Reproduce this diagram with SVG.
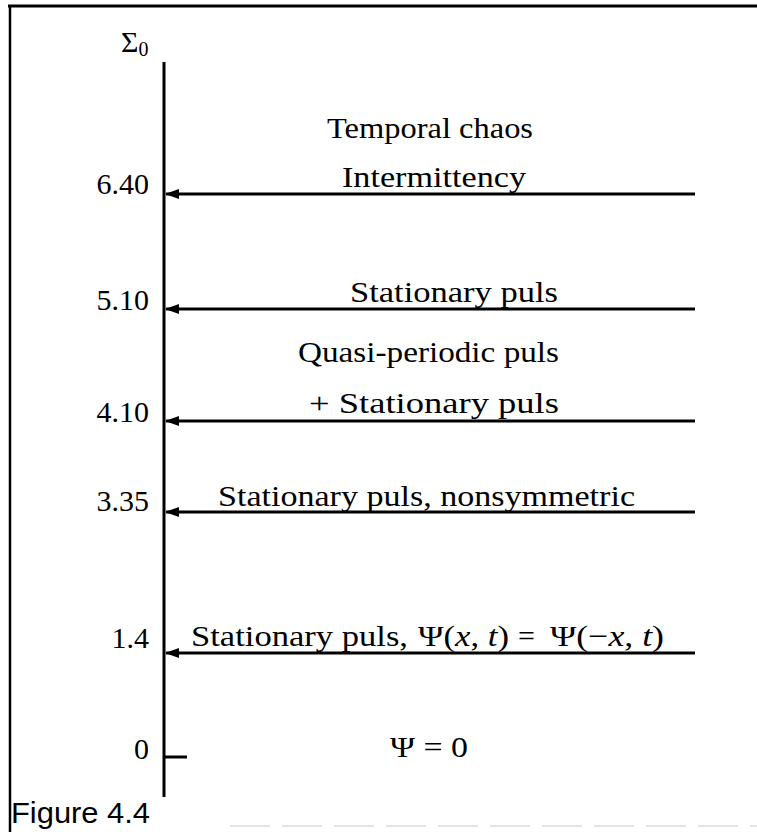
<svg xmlns="http://www.w3.org/2000/svg" width="757" height="832" viewBox="0 0 757 832">
<defs>
<style>
.t{font-family:"Liberation Serif","DejaVu Serif",serif;font-size:30px;fill:#000}
.n{font-family:"Liberation Serif","DejaVu Serif",serif;font-size:30px;fill:#000;text-anchor:end}
.ax{stroke:#000;stroke-width:3;fill:none}
.ar{stroke:#000;stroke-width:3;fill:none;marker-end:url(#ah)}
.cap{font-family:"Liberation Sans Narrow","Liberation Sans",sans-serif;font-size:30px;fill:#000}
</style>
<marker id="ah" markerWidth="14" markerHeight="10" refX="13" refY="5" orient="auto" markerUnits="userSpaceOnUse">
<path d="M0,0 L14,5 L0,10 Z" fill="#000"/>
</marker>
</defs>
<rect width="757" height="832" fill="#fff"/>
<g id="frame">
<line x1="8" y1="6" x2="757" y2="6" stroke="#000" stroke-width="3"/>
<line x1="10" y1="5" x2="10" y2="832" stroke="#000" stroke-width="2.5"/>
<line x1="230" y1="826" x2="757" y2="826" stroke="#ddd" stroke-width="1.5" stroke-dasharray="40,12"/>
</g>
<g id="axis">
<line class="ax" x1="164" y1="62" x2="164" y2="797"/>
<line class="ax" x1="164" y1="757" x2="187" y2="757"/>
<text class="t" x="121" y="52" font-size="28">Σ<tspan font-size="20" dy="4">0</tspan></text>
</g>
<g id="connectors">
<line class="ar" x1="695" y1="194" x2="166" y2="194"/>
<line class="ar" x1="695" y1="309" x2="166" y2="309"/>
<line class="ar" x1="695" y1="421" x2="166" y2="421"/>
<line class="ar" x1="695" y1="512" x2="166" y2="512"/>
<line class="ar" x1="695" y1="653" x2="166" y2="653"/>
</g>
<g id="ticks">
<text class="n" x="149" y="194">6.40</text>
<text class="n" x="149" y="310">5.10</text>
<text class="n" x="149" y="422">4.10</text>
<text class="n" x="149" y="511">3.35</text>
<text class="n" x="149" y="648">1.4</text>
<text class="n" x="149" y="759">0</text>
</g>
<g id="region-chaos"><text class="t" x="327" y="138" textLength="206" lengthAdjust="spacingAndGlyphs">Temporal chaos</text></g>
<g id="region-intermittency"><text class="t" x="342" y="187" textLength="184" lengthAdjust="spacingAndGlyphs">Intermittency</text></g>
<g id="region-stationary"><text class="t" x="350" y="302" textLength="208" lengthAdjust="spacingAndGlyphs">Stationary puls</text></g>
<g id="region-quasi">
<text class="t" x="298" y="362" textLength="261" lengthAdjust="spacingAndGlyphs">Quasi-periodic puls</text>
<text class="t" x="309" y="413" textLength="250" lengthAdjust="spacingAndGlyphs">+ Stationary puls</text>
</g>
<g id="region-nonsym"><text class="t" x="218" y="506" textLength="417" lengthAdjust="spacingAndGlyphs">Stationary puls, nonsymmetric</text></g>
<g id="region-sym">
<text class="t" x="191" y="646" textLength="217" lengthAdjust="spacingAndGlyphs">Stationary puls,</text>
<text class="t" x="418" y="646" textLength="91" lengthAdjust="spacingAndGlyphs">Ψ(<tspan font-style="italic">x</tspan>, <tspan font-style="italic">t</tspan>)</text>
<text class="t" x="518" y="646">=</text>
<text class="t" x="550" y="646" textLength="114" lengthAdjust="spacingAndGlyphs">Ψ(−<tspan font-style="italic">x</tspan>, <tspan font-style="italic">t</tspan>)</text>
</g>
<g id="region-zero"><text class="t" x="390" y="757" textLength="78" lengthAdjust="spacingAndGlyphs">Ψ = 0</text></g>
<text class="cap" x="11" y="823" textLength="139" lengthAdjust="spacingAndGlyphs">Figure 4.4</text>
</svg>
